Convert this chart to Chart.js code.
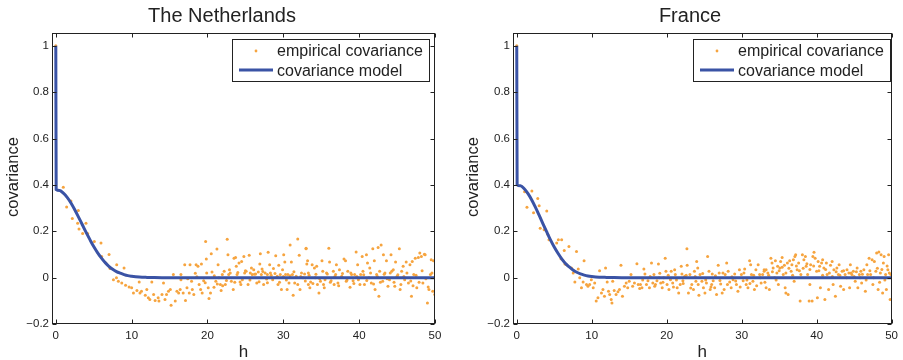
<!DOCTYPE html>
<html>
<head>
<meta charset="utf-8">
<script src="https://cdn.jsdelivr.net/npm/chart.js@4"></script>
<style>
  body { margin: 0; background: #fff; }
  .panel { position: absolute; top: 0; height: 360px; }
</style>
</head>
<body>
<div class="panel" style="left:0;width:450px"><canvas id="nl" width="450" height="360"></canvas></div>
<div class="panel" style="left:450px;width:453px"><canvas id="fr" width="453" height="360"></canvas></div>
<script>
// axis ticks
const xTicks = [0, 10, 20, 30, 40, 50];
const yTicks = [-0.2, 0, 0.2, 0.4, 0.6, 0.8, 1];

// fitted covariance model, sampled along h
const modelH  = [0, 0.05, 0.5, 1, 1.5, 2, 2.5, 3, 3.5, 4, 4.5, 5, 5.5, 6, 6.5, 7, 7.5, 8, 8.5, 9, 9.5, 10, 11, 12, 13, 14, 50];
const modelNL = [1, 0.38, 0.376, 0.364, 0.346, 0.322, 0.293, 0.261, 0.228, 0.195, 0.164, 0.134, 0.108, 0.085, 0.065, 0.049, 0.036, 0.026, 0.019, 0.013, 0.0085, 0.006, 0.0025, 0.001, 0.0003, 0, 0];
const modelFR = [1, 0.40, 0.396, 0.383, 0.362, 0.335, 0.303, 0.268, 0.232, 0.197, 0.163, 0.132, 0.105, 0.081, 0.061, 0.046, 0.033, 0.023, 0.016, 0.011, 0.0073, 0.005, 0.002, 0.001, 0.0003, 0, 0];

// empirical covariance [h, c]
const empNL = [
  [0,1],[0.99,0.39],[1.43,0.305],[2.0,0.33],[2.18,0.255],[2.88,0.234],[2.97,0.29],[3.06,0.21],[3.54,0.19],[3.98,0.234],
  [4.2,0.19],[5.08,0.156],[5.96,0.149],[6.05,0.091],[6.6,0.063],[7.02,0.10],[7.15,0.039],[7.6,-0.009],[8.03,0.056],[8.0,0],
  [8.25,-0.016],[8.7,-0.023],[9.0,0.041],[9.2,-0.033],[9.67,-0.04],[10.0,-0.044],[10.24,-0.066],[10.7,-0.056],[11.0,-0.019],[11.1,-0.066],
  [11.3,-0.059],[11.8,-0.076],[12.0,-0.051],[12.2,-0.087],[12.4,-0.094],[12.66,-0.019],[12.9,-0.073],[13.1,-0.099],[13.5,-0.087],[13.6,-0.101],
  [14.0,-0.073],[14.2,-0.023],[14.4,-0.094],[14.6,-0.073],[14.86,-0.059],[15.1,-0.051],[15.2,-0.119],[15.5,0.013],[15.75,-0.101],[15.97,-0.059],
  [16.2,-0.066],[16.4,-0.051],[16.5,-0.009],[16.5,0.013],[16.8,-0.066],[17.0,0.056],[17.1,-0.099],[17.3,-0.044],[17.6,-0.066],[17.7,0.056],
  [17.9,-0.016],[18.0,-0.051],[18.2,-0.073],[18.4,0.019],[18.5,0.056],[18.75,0.049],[18.9,-0.03],[19.1,-0.051],[19.2,0.059],[19.3,-0.066],
  [19.5,-0.013],[19.76,0.156],[19.85,0.08],[19.9,0.02],[20.1,-0.044],[20.2,-0.09],[20.4,-0.066],[20.5,0.103],[20.6,0.024],[20.86,-0.041],
  [21.1,-0.016],[21.25,0.123],[21.4,0.056],[21.5,0],[21.7,-0.03],[21.8,-0.056],[21.96,0.013],[22.2,0.027],[22.35,-0.03],[22.6,0.166],
  [22.7,0.099],[22.8,0.013],[22.9,0.034],[23.15,-0.016],[23.4,-0.051],[23.5,0.084],[23.7,0.087],[23.8,0.049],[23.9,0.013],[24.16,0.063],
  [24.3,-0.019],[24.5,0.07],[24.6,-0.009],[24.8,0.091],[24.9,0.02],[25.1,0.027],[25.35,-0.03],[25.5,0.096],[25.65,0.02],[25.8,0.041],
  [25.9,0.013],[26.1,0.034],[26.35,0.016],[26.5,-0.023],[26.7,0.024],[26.9,0.059],[26.97,0.103],[27.1,0.013],[27.2,0.037],[27.4,-0.03],
  [27.6,0.02],[27.8,-0.006],[27.9,0.013],[28.0,0.109],[28.2,0.056],[28.3,0.02],[28.6,-0.009],[28.7,0.039],[29.0,0.094],[29.2,0.006],
  [29.3,-0.03],[29.4,0.053],[29.6,0.013],[29.75,-0.051],[29.9,0.034],[30.05,0.099],[30.2,0.067],[30.3,0.013],[30.5,-0.051],[30.6,0.013],
  [30.75,-0.023],[30.9,0.141],[31.06,0.067],[31.2,0.013],[31.3,-0.076],[31.5,-0.023],[31.7,0.006],[31.9,0.167],[32.1,0.096],[32.2,-0.051],
  [32.4,0.02],[32.6,0],[32.8,0.016],[33.0,0.124],[33.1,0.059],[33.3,-0.03],[33.0,0.127],[33.2,0.073],[33.3,0.02],[33.5,-0.044],
  [33.6,-0.019],[33.8,0.056],[34.1,0.041],[34.2,0],[34.4,0.049],[34.5,-0.03],[34.7,-0.066],[34.9,-0.016],[35.1,0.073],[35.2,0.027],
  [35.4,-0.044],[35.5,-0.009],[35.8,0.016],[36.0,0.127],[36.1,0.067],[36.3,-0.013],[36.6,0.027],[36.7,-0.03],[36.9,0.013],[37.0,0.056],
  [37.2,-0.023],[37.4,0.034],[37.7,0.006],[38.0,0.08],[38.2,0.073],[38.3,-0.016],[38.5,0.027],[38.8,-0.041],[39.0,0.013],[39.2,-0.013],
  [39.4,0.013],[39.6,0.11],[39.8,0.056],[39.9,-0.009],[40.2,0.013],[40.4,0.091],[40.5,0.027],[40.7,-0.03],[40.96,0.099],[41.1,0.063],
  [41.3,0],[41.4,0.041],[41.6,-0.023],[41.8,0.124],[42.0,0.073],[42.1,-0.051],[42.3,0.013],[42.5,0.13],[42.6,-0.08],[42.7,0.027],
  [42.9,0.141],[43.1,-0.016],[43.2,0.099],[43.4,0.02],[43.6,0.073],[43.8,-0.037],[44.0,-0.009],[44.2,0.099],[44.3,0.027],[44.5,0.034],
  [44.7,-0.037],[44.8,0.067],[45.0,0.006],[45.3,0.124],[45.4,-0.051],[45.6,0.027],[45.8,0.049],[46.0,-0.009],[46.2,0.067],[46.5,-0.023],
  [46.7,0.056],[46.9,-0.08],[47.0,0.07],[47.2,0.013],[47.4,0.084],[47.6,-0.044],[47.8,0.087],[48.0,0.106],[48.2,0.091],[48.4,-0.023],
  [48.6,0.101],[48.7,0.099],[49.0,-0.109],[49.2,-0.051],[49.4,0.013],[49.5,0.077],[49.7,-0.059],[49.8,0.073],[49.97,-0.073],
  [17.4,-0.005],[18.6,0.004],[19.7,-0.022],[20.9,0.008],[21.3,-0.028],[22.0,-0.035],[22.5,-0.012],[23.0,0.02],[23.6,-0.02],[24.0,0.022],
  [24.4,-0.03],[25.0,0.03],[25.6,-0.01],[26.2,0.015],[26.8,-0.018],[27.3,0.026],[27.9,-0.022],[28.4,0.01],[28.9,0.018],[29.5,-0.02],
  [30.0,0.005],[30.4,-0.01],[30.9,0.008],[31.4,0.025],[31.9,-0.03],[32.3,0.005],[32.9,-0.015],[33.4,0.01],[33.9,-0.025],[34.3,0.015],
  [34.8,-0.005],[35.3,-0.03],[35.7,0.02],[36.2,-0.02],[36.8,0.005],[37.3,-0.035],[37.8,0.018],[38.4,-0.01],[38.9,0.02],[39.3,-0.025],
  [39.7,0.005],[40.1,-0.03],[40.6,0.012],[41.0,-0.012],[41.5,0.02],[41.9,-0.028],[42.4,0.005],[42.8,-0.02],[43.3,0.015],[43.7,-0.005],
  [44.1,0.02],[44.6,-0.02],[45.1,0.012],[45.5,-0.03],[45.9,0.005],[46.3,0.02],[46.8,-0.015],[47.1,-0.035],[47.5,0.01],[47.9,-0.02],
  [48.3,0.03],[48.8,-0.005],[49.1,-0.04],[49.6,0.02],[49.9,0.0]
];

const empFR = [
  [0,1],[1.05,0.37],[1.36,0.303],[2.02,0.374],[2.24,0.28],[2.8,0.341],[2.99,0.31],[3.13,0.213],[3.65,0.206],[4.0,0.287],
  [4.14,0.187],[4.3,0.163],[5.33,0.149],[5.55,0.163],[5.9,0.081],[5.99,0.163],[6.34,0.117],[6.43,0.059],[6.65,0.056],[6.96,0.134],
  [7.3,0.041],[7.53,0.02],[7.75,-0.019],[7.97,0.113],[8.2,0.037],[8.4,0],[8.63,-0.044],[8.85,-0.019],[8.98,0.073],[9.3,-0.03],
  [9.5,-0.037],[9.73,-0.03],[9.95,-0.009],[10.2,-0.044],[10.4,-0.023],[10.6,-0.101],[10.83,-0.087],[11.05,0.03],[11.3,-0.066],[11.5,-0.051],
  [11.7,-0.08],[11.85,0.041],[12.06,-0.019],[12.24,-0.059],[12.4,-0.073],[12.6,-0.094],[12.7,-0.109],[12.8,-0.016],[13.0,-0.056],[13.25,-0.073],
  [13.5,-0.061],[13.7,-0.051],[13.9,0.053],[14.1,-0.08],[14.36,-0.037],[14.6,-0.023],[14.8,-0.044],[15.0,-0.016],[15.24,0.013],[15.46,-0.037],
  [15.7,-0.023],[16.03,0.06],[16.2,-0.03],[16.4,-0.047],[16.5,-0.03],[16.7,-0.044],[16.96,0.037],[17.1,0.016],[17.3,-0.03],[17.5,-0.013],
  [17.7,-0.044],[17.97,0.063],[18.15,-0.023],[18.3,0.013],[18.4,-0.037],[18.7,-0.013],[18.9,0.059],[19.08,0.019],[19.2,-0.023],[19.4,-0.044],
  [19.6,0],[19.8,0.084],[19.9,0.027],[20.05,-0.03],[20.3,-0.051],[20.5,-0.009],[20.6,0.027],[20.8,-0.023],[21.06,0.034],[21.15,0.013],
  [21.4,-0.044],[21.6,-0.066],[21.8,-0.03],[21.94,0.049],[22.03,0.016],[22.16,-0.013],[22.4,0.006],[22.7,0.124],[22.73,0.053],[22.9,-0.066],
  [23.1,0.013],[23.35,-0.03],[23.57,-0.051],[23.7,0.027],[23.9,-0.016],[24.0,0.07],[24.14,0.041],[24.3,-0.076],[24.45,0.013],[24.7,-0.016],
  [24.9,-0.044],[25.1,-0.066],[25.3,-0.023],[25.46,0.091],[25.64,0.027],[25.8,-0.051],[26.0,-0.03],[26.08,0.016],[26.2,-0.013],[26.4,-0.044],
  [26.65,-0.073],[26.87,0.053],[27.0,0.02],[27.2,-0.027],[27.4,-0.066],[27.66,-0.051],[27.8,0.013],[28.0,0.063],[28.2,0.027],[28.4,-0.019],
  [28.6,-0.044],[28.85,-0.009],[29.07,0.016],[29.3,-0.03],[29.5,-0.059],[29.7,0.034],[29.96,0.013],[30.2,-0.013],[30.4,0.037],[30.6,-0.03],
  [30.84,-0.044],[31.06,0.073],[31.2,0.056],[31.3,0.013],[31.5,-0.016],[31.7,-0.051],[31.9,0.034],[32.2,0.056],[32.4,0.013],[32.6,-0.023],
  [32.8,0.013],[33.0,0.034],[33.26,-0.044],[33.0,0.027],[33.26,0.034],[33.5,0.02],[33.7,-0.051],[33.9,0.084],[34.05,0.063],[34.2,0.041],
  [34.4,0],[34.5,0.073],[34.7,0.02],[34.8,0.049],[34.9,-0.03],[35.1,0.041],[35.2,0.07],[35.4,0.087],[35.55,0.013],[35.7,0.053],
  [35.8,-0.044],[35.9,-0.066],[36.1,0.063],[36.2,-0.073],[36.4,0.073],[36.6,0.027],[36.7,0.056],[36.9,0.077],[37.0,-0.016],[37.1,0.091],
  [37.2,0.099],[37.4,0.034],[37.6,0.063],[37.8,-0.101],[37.9,0.013],[38.1,0.099],[38.3,0.077],[38.5,0.091],[38.6,0.049],[38.8,0.013],
  [39.0,-0.101],[39.1,-0.03],[39.2,0.056],[39.4,-0.101],[39.5,0.091],[39.65,0.109],[39.8,0.084],[40.0,0.027],[40.1,-0.087],[40.2,0.07],
  [40.4,0.049],[40.5,-0.044],[40.66,0.063],[40.8,0.077],[40.97,0.041],[41.1,-0.094],[41.3,0.063],[41.4,0.013],[41.6,-0.051],[41.85,0.053],
  [42.07,0.07],[42.2,-0.03],[42.3,0.034],[42.5,-0.08],[42.7,0.041],[42.9,0.013],[43.0,0.056],[43.2,-0.037],[43.4,0.027],[43.6,-0.051],
  [43.8,0.013],[44.05,0.034],[44.3,0.02],[44.4,-0.044],[44.5,0.056],[44.7,0.013],[44.9,0.027],[45.15,-0.016],[45.4,0.041],[45.5,-0.044],
  [45.7,0.013],[45.9,0.027],[46.0,-0.023],[46.3,0.034],[46.5,-0.059],[46.7,0.056],[46.8,0.013],[47.0,0.084],[47.2,0.013],[47.4,0.077],
  [47.5,-0.03],[47.7,0.07],[47.9,0.027],[48.0,0.106],[48.2,-0.051],[48.3,0.11],[48.5,0.02],[48.6,0.099],[48.8,-0.066],[48.9,0.063],
  [49.0,0.091],[49.2,0.013],[49.3,-0.051],[49.5,0.034],[49.6,0.099],[49.8,-0.094],[49.9,0.013],
  [16.8,-0.01],[17.8,0.005],[18.5,-0.03],[19.0,0.0],[19.5,-0.02],[20.2,0.01],[20.9,-0.04],[21.3,-0.01],[22.2,-0.025],[22.6,0.01],
  [23.2,-0.045],[23.8,0.005],[24.2,-0.03],[24.8,0.018],[25.2,-0.01],[25.9,-0.04],[26.5,0.008],[27.1,-0.012],[27.5,0.02],[28.1,-0.03],
  [28.7,0.004],[29.2,-0.015],[29.8,-0.04],[30.3,0.02],[30.7,-0.01],[31.1,-0.025],[31.6,0.01],[32.0,-0.035],[32.5,0.0],[33.1,-0.02],
  [33.6,0.01],[34.1,0.025],[34.6,-0.01],[35.0,0.03],[35.4,0.045],[35.9,0.02],[36.3,0.04],[36.8,0.01],[37.3,0.05],[37.7,0.03],
  [38.2,0.04],[38.7,0.06],[39.1,0.035],[39.6,0.05],[40.3,0.03],[40.8,0.01],[41.2,0.035],[41.7,0.02],[42.1,0.005],[42.6,0.025],
  [43.1,0.01],[43.6,0.03],[44.0,0.0],[44.6,0.02],[45.0,0.005],[45.3,0.025],[45.8,0.0],[46.1,0.015],[46.6,-0.01],[47.1,0.03],
  [47.6,0.0],[48.1,0.04],[48.4,-0.02],[48.7,0.035],[49.1,-0.01],[49.4,0.05],[49.7,0.02]
];

const ORANGE = '#f6a43f';
const BLUE = '#3a53a5';
const INK = '#222';
const FONT = '"Liberation Sans", Arial, Helvetica, sans-serif';

// axes box, inward ticks, titles and the legend drawn over the plot
const frame = {
  id: 'frame',
  afterDatasetsDraw(chart, args, o) {
    const { ctx, chartArea: a, scales } = chart;
    ctx.save();
    ctx.strokeStyle = INK;
    ctx.lineWidth = 1;
    const L = Math.round(a.left) + 0.5, R = Math.round(a.right) - 0.5;
    const T = Math.round(a.top) + 0.5, B = Math.round(a.bottom) - 0.5;
    ctx.strokeRect(L, T, R - L, B - T);
    ctx.beginPath();
    xTicks.forEach(v => {
      const px = Math.round(scales.x.getPixelForValue(v)) + 0.5;
      ctx.moveTo(px, B); ctx.lineTo(px, B - 4);
      ctx.moveTo(px, T); ctx.lineTo(px, T + 4);
    });
    yTicks.forEach(v => {
      const py = Math.round(scales.y.getPixelForValue(v)) + 0.5;
      ctx.moveTo(L, py); ctx.lineTo(L + 4, py);
      ctx.moveTo(R, py); ctx.lineTo(R - 4, py);
    });
    ctx.stroke();

    // legend
    const lx = o.legendX, ly = 39;
    ctx.fillStyle = '#fff';
    ctx.fillRect(lx, ly, 197, 42);
    ctx.strokeRect(lx + 0.5, ly + 0.5, 197, 42);
    ctx.fillStyle = ORANGE;
    ctx.beginPath(); ctx.arc(lx + 24, ly + 12, 1.4, 0, Math.PI * 2); ctx.fill();
    ctx.strokeStyle = BLUE; ctx.lineWidth = 3;
    ctx.beginPath(); ctx.moveTo(lx + 7, ly + 31); ctx.lineTo(lx + 41, ly + 31); ctx.stroke();
    ctx.fillStyle = INK;
    ctx.font = '16px ' + FONT;
    ctx.textAlign = 'left';
    ctx.textBaseline = 'alphabetic';
    ctx.fillText('empirical covariance', lx + 45, ly + 17);
    ctx.fillText('covariance model', lx + 45, ly + 37);

    // titles
    ctx.textAlign = 'center';
    ctx.font = '20px ' + FONT;
    ctx.fillText(o.title, o.titleX, 22);
    ctx.font = '17px ' + FONT;
    ctx.fillText('h', (a.left + a.right) / 2, 357);
    ctx.save();
    ctx.translate(o.yTitleX, 177);
    ctx.rotate(-Math.PI / 2);
    ctx.font = '16.5px ' + FONT;
    ctx.fillText('covariance', 0, 0);
    ctx.restore();
    ctx.restore();
  }
};

function makeChart(id, emp, model, opts) {
  return new Chart(document.getElementById(id), {
    type: 'scatter',
    data: {
      datasets: [
        {
          label: 'covariance model',
          type: 'line',
          data: modelH.map((h, i) => ({ x: h, y: model[i] })),
          borderColor: BLUE,
          borderWidth: 3,
          pointRadius: 0,
          cubicInterpolationMode: 'monotone',
          fill: false,
          order: 0
        },
        {
          label: 'empirical covariance',
          data: emp.map(p => ({ x: p[0], y: p[1] })),
          backgroundColor: ORANGE,
          borderWidth: 0,
          pointRadius: 1.5,
          order: 1
        }
      ]
    },
    options: {
      responsive: false,
      animation: false,
      layout: { padding: { left: 0, right: opts.padRight, top: 33, bottom: 0 } },
      plugins: {
        legend: { display: false },
        tooltip: { enabled: false },
        frame: opts
      },
      scales: {
        x: {
          type: 'linear',
          min: -0.5, max: 50,
          grid: { display: false, drawTicks: false },
          border: { display: false },
          afterBuildTicks: s => { s.ticks = xTicks.map(v => ({ value: v })); },
          afterFit: s => { s.height = 36; },
          ticks: { color: INK, padding: 5, font: { family: FONT, size: 11.5 } }
        },
        y: {
          type: 'linear',
          min: -0.2, max: 1.055,
          grid: { display: false, drawTicks: false },
          border: { display: false },
          afterBuildTicks: s => { s.ticks = yTicks.map(v => ({ value: v })); },
          afterFit: s => { s.width = opts.axisLeft; },
          ticks: {
            color: INK, padding: 3, font: { family: FONT, size: 11.5 },
            callback: v => String(Math.round(v * 10) / 10).replace('-', '\u2212')
          }
        }
      }
    },
    plugins: [frame]
  });
}

makeChart('nl', empNL, modelNL, { title: 'The Netherlands', titleX: 222, legendX: 232, yTitleX: 18, axisLeft: 52, padRight: 15 });
makeChart('fr', empFR, modelFR, { title: 'France', titleX: 240, legendX: 243, yTitleX: 28, axisLeft: 63, padRight: 7 });
</script>
</body>
</html>
